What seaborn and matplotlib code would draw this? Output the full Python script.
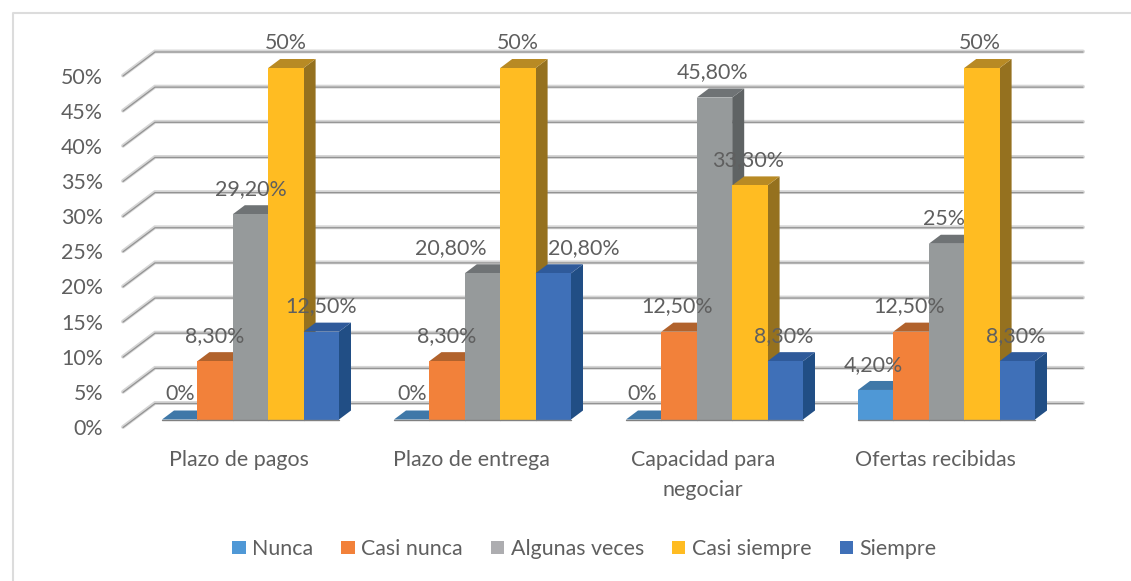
import matplotlib
matplotlib.use("Agg")
import matplotlib.pyplot as plt
from matplotlib.lines import Line2D
from matplotlib.patches import Polygon
from matplotlib.transforms import Affine2D
import pandas as pd
import seaborn as sns

categories = ["Plazo de pagos", "Plazo de entrega", "Capacidad para\nnegociar", "Ofertas recibidas"]
nunca = [0, 0, 0, 4.2]
casi_nunca = [8.3, 8.3, 12.5, 12.5]
algunas_veces = [29.2, 20.8, 45.8, 25]
casi_siempre = [50, 50, 33.3, 50]
siempre = [12.5, 20.8, 8.3, 8.3]
series_names = ["Nunca", "Casi nunca", "Algunas veces", "Casi siempre", "Siempre"]
y_ticks = list(range(0, 55, 5))

W, H = 1131, 581
FONT = "Lato"
FS = 15.4
TXT = "#5f5f5f"
colors = ["#4F98D6", "#F2813A", "#969A9B", "#FFBC22", "#3F70B8"]
legend_colors = ["#4F98D6", "#F2813A", "#ADADB0", "#FFBC22", "#3F70B8"]
side_colors = ["#2F5F8A", "#A8592A", "#5F6364", "#95711F", "#214E85"]
top_colors = ["#3F78A8", "#B1622C", "#6F7375", "#B88A24", "#2F5A9A"]

sns.set_theme(style="white")
plt.rcParams["font.family"] = [FONT, "DejaVu Sans"]

fig = plt.figure(figsize=(W / 100, H / 100), dpi=100, facecolor="white")
# bar plane in pixels: x 134.5..1062.5, 0% at y 419.5, 50% at y 68
L, R, Y0, Y50 = 134.5, 1062.5, 419.5, 68.0
ax = fig.add_axes([L / W, 1 - Y0 / H, (R - L) / W, (Y0 - Y50) / H])
ax.patch.set_visible(False)

rows = []
for name, vals in zip(series_names, [nunca, casi_nunca, algunas_veces, casi_siempre, siempre]):
    for cat, v in zip(categories, vals):
        rows.append({"cat": cat, "serie": name, "valor": v})
df = pd.DataFrame(rows)

sns.barplot(data=df, x="cat", y="valor", hue="serie", order=categories, hue_order=series_names,
            palette=colors, saturation=1, width=177 / 232, gap=0, errorbar=None,
            edgecolor="none", linewidth=0, ax=ax)
ax.set_xlim(-0.5, 3.5)
ax.set_ylim(0, 50)
ax.set_xlabel("")
ax.set_ylabel("")
sns.despine(ax=ax, left=True, bottom=True)

pxx = 4 / (R - L)        # data units per horizontal pixel
pxy = 50 / (Y0 - Y50)    # data units per vertical pixel

# gridlines on back wall and side wall
bx, by = 20.5 * pxx, 16.5 * pxy
fx, fy = -11.5 * pxx, -7.5 * pxy
for t in y_ticks:
    xs = [-0.5 + fx, -0.5 + bx, 3.5 + bx]
    ys = [t + fy, t + by, t + by]
    ax.plot(xs, ys, color="#d6d6d6", lw=2.8, clip_on=False, zorder=1, solid_capstyle="round", solid_joinstyle="miter")
    ax.plot(xs, [y - 0.5 * pxy for y in ys], color="#939393", lw=0.9, clip_on=False, zorder=1.1,
            solid_capstyle="round", solid_joinstyle="miter")

dx, dy = 12 * pxx, 9 * pxy
for i, cont in enumerate(ax.containers):
    for p in cont.patches:
        x0, w, h = p.get_x(), p.get_width(), p.get_height()
        x1 = x0 + w
        p.set_zorder(3 + i + 0.2)
        p.set_clip_on(False)
        ax.add_patch(Polygon([(x1, 0), (x1 + dx, dy), (x1 + dx, h + dy), (x1, h)], closed=True,
                             facecolor=side_colors[i], edgecolor="none", zorder=3 + i, clip_on=False))
        ax.add_patch(Polygon([(x0, h), (x1, h), (x1 + dx, h + dy), (x0 + dx, h + dy)], closed=True,
                             facecolor=top_colors[i], edgecolor="none", zorder=3 + i + 0.1, clip_on=False))
        ax.plot([x0, x1], [0, 0], color="#808080", lw=1.0, zorder=3 + i + 0.3, clip_on=False)


def fmt(v):
    return f"{v:.0f}%" if float(v).is_integer() else f"{v:.2f}%".replace(".", ",")


# two labels were moved by hand in the original (series, group): pixel shift
moved = {(2, 1): -32, (4, 1): 31}
for i, cont in enumerate(ax.containers):
    for j, p in enumerate(cont.patches):
        xc = p.get_x() + p.get_width() / 2
        h = p.get_height()
        shift = moved.get((i, j), -2 if j >= 2 else 0)
        ax.annotate(fmt(h), xy=(xc, h), xytext=(shift * 0.72, 25.2 * 0.72), textcoords="offset points",
                    ha="center", va="center", fontsize=FS, color=TXT, zorder=20, annotation_clip=False)

# axis tick labels sit on the front edge of the floor
ax.set_yticks(y_ticks)
ax.set_yticklabels([f"{t}%" for t in y_ticks])
ax.tick_params(axis="y", length=0, pad=31.5 * 0.72, labelsize=FS, labelcolor=TXT)
ax.tick_params(axis="x", length=0, pad=31 * 0.72, labelsize=FS, labelcolor=TXT)
for lab in ax.get_yticklabels():
    lab.set_transform(lab.get_transform() + Affine2D().translate(0, -7.5))
for lab in ax.get_xticklabels():
    lab.set_transform(lab.get_transform() + Affine2D().translate(-11.5, 0))
    lab.set_linespacing(1.62)

# legend
sns.move_legend(ax, "center", bbox_to_anchor=(584.5 / W, 1 - 549 / H), bbox_transform=fig.transFigure,
                ncol=5, frameon=False, title=None, fontsize=FS, handlelength=0.62, handleheight=0.62,
                handletextpad=0.32, columnspacing=1.3, borderpad=0)
leg = ax.get_legend()
for h, c in zip(leg.get_patches(), legend_colors):
    h.set_facecolor(c)
for t in leg.get_texts():
    t.set_color(TXT)
leg.set_zorder(30)

# chart frame
fig.add_artist(Line2D([12.5 / W, 12.5 / W, 1], [0, 1 - 13 / H, 1 - 13 / H], color="#dcdcdc", lw=1.5,
                      transform=fig.transFigure))

fig.savefig("out.png", dpi=100, facecolor="white")
